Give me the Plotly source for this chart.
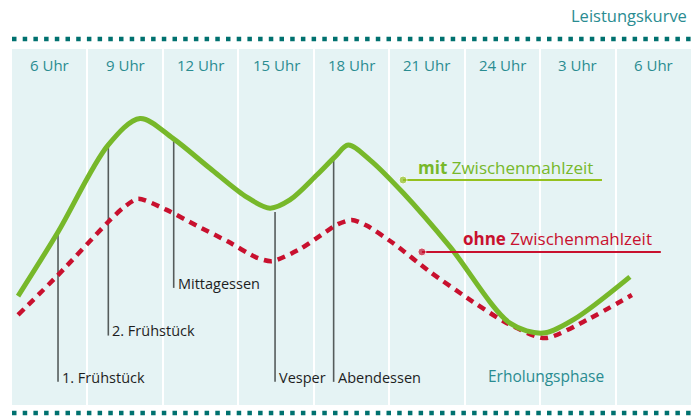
import plotly.graph_objects as go

# ---- data ----
hour_labels = ["6 Uhr", "9 Uhr", "12 Uhr", "15 Uhr", "18 Uhr", "21 Uhr", "24 Uhr", "3 Uhr", "6 Uhr"]
hour_centers = [6, 9, 12, 15, 18, 21, 24, 27, 30]

mit_x = [4.74, 6.33, 8.32, 9.59, 10.90, 12.37, 13.77, 14.76, 15.55, 16.62, 17.34, 17.87,
         18.74, 20.05, 21.92, 24.30, 25.61, 26.81, 29.07]
mit_y = [30.6, 48.6, 73.0, 80.5, 74.9, 66.5, 58.7, 55.3, 57.6, 64.6, 69.7, 73.0,
         68.8, 59.6, 44.4, 23.0, 20.2, 23.9, 36.0]

ohne_x = [4.74, 6.33, 8.32, 8.91, 9.51, 10.65, 11.84, 13.09, 14.23, 14.83, 15.95, 16.99, 17.46, 18.01,
          18.60, 19.65, 21.12, 22.83, 24.18, 25.70, 27.36, 29.15]
ohne_y = [25.3, 36.5, 51.4, 55.3, 57.9, 54.8, 50.4, 45.9, 41.4, 40.4, 43.8, 48.7, 50.8, 52.0,
          50.4, 45.5, 37.4, 29.0, 23.0, 18.8, 23.9, 30.9]

meal_names = ["1. Frühstück", "2. Frühstück", "Mittagessen", "Vesper", "Abendessen"]
meal_hours = [6.33, 8.33, 10.93, 14.96, 17.29]
meal_top = [48.3, 73.0, 74.7, 54.2, 69.4]
meal_bottom = [6.5, 19.5, 32.9, 6.5, 6.5]

GREEN = "#77b82a"
GREEN_L = "#95c11f"
RED = "#c8102e"
TEAL = "#2a8c91"
DOT = "#00716f"
FONT = "Open Sans"

fig = go.Figure()

# meal leader lines
for h, t, b in zip(meal_hours, meal_top, meal_bottom):
    fig.add_trace(go.Scatter(x=[h, h], y=[b, t], mode="lines",
                             line=dict(color="#555b5b", width=1.6),
                             hoverinfo="skip", showlegend=False))

fig.add_trace(go.Scatter(x=ohne_x, y=ohne_y, mode="lines", name="ohne Zwischenmahlzeit",
                         line=dict(color=RED, width=4.5, dash="8px,6px", shape="spline", smoothing=0.7),
                         showlegend=False))
fig.add_trace(go.Scatter(x=mit_x, y=mit_y, mode="lines", name="mit Zwischenmahlzeit",
                         line=dict(color=GREEN, width=5, shape="spline", smoothing=0.9),
                         showlegend=False))

# inline legend markers
fig.add_trace(go.Scatter(x=[20.05, 27.96], y=[63.2, 63.2], mode="lines+markers",
                         line=dict(color=GREEN_L, width=2), marker=dict(size=[8, 0], color=GREEN_L),
                         hoverinfo="skip", showlegend=False))
fig.add_trace(go.Scatter(x=[20.8, 30.3], y=[43.0, 43.0], mode="lines+markers",
                         line=dict(color=RED, width=2), marker=dict(size=[8, 0], color=RED),
                         hoverinfo="skip", showlegend=False))

annotations = []
for lab, c in zip(hour_labels, hour_centers):
    annotations.append(dict(x=c, y=95.5, xref="x", yref="y", text=lab, showarrow=False,
                            xanchor="center", yanchor="middle",
                            font=dict(family=FONT, size=15, color=TEAL)))
for name, h, b in zip(meal_names, meal_hours, meal_bottom):
    annotations.append(dict(x=h, y=b + 1.3, xref="x", yref="y", text=name, showarrow=False,
                            xanchor="left", yanchor="middle", xshift=2,
                            font=dict(family=FONT, size=14.5, color="#1e1e1e")))
annotations += [
    dict(x=20.56, y=66.8, xref="x", yref="y", text="<b>mit</b> Zwischenmahlzeit", showarrow=False,
         xanchor="left", yanchor="middle", font=dict(family=FONT, size=17, color=GREEN)),
    dict(x=22.36, y=46.8, xref="x", yref="y", text="<b>ohne</b> Zwischenmahlzeit", showarrow=False,
         xanchor="left", yanchor="middle", font=dict(family=FONT, size=17, color=RED)),
    dict(x=25.75, y=8.1, xref="x", yref="y", text="Erholungsphase", showarrow=False,
         xanchor="center", yanchor="middle", font=dict(family=FONT, size=15.5, color=TEAL)),
    dict(x=(689 - 12) / 679, y=(405 - 15) / 356, xref="paper", yref="paper", text="Leistungskurve",
         showarrow=False, xanchor="right", yanchor="middle",
         font=dict(family=FONT, size=16.5, color=TEAL)),
]

shapes = [
    dict(type="line", xref="paper", yref="paper", x0=0, x1=1.0015,
         y0=(405 - 39) / 356, y1=(405 - 39) / 356,
         line=dict(color=DOT, width=4.5, dash="4.5px,6.2px")),
    dict(type="line", xref="paper", yref="paper", x0=0, x1=1.0015,
         y0=(405 - 413) / 356, y1=(405 - 413) / 356,
         line=dict(color=DOT, width=4.5, dash="4.5px,6.2px")),
]

fig.update_layout(
    width=695, height=417,
    margin=dict(l=12, r=4, t=49, b=12),
    paper_bgcolor="white", plot_bgcolor="#e5f3f4",
    annotations=annotations, shapes=shapes,
    showlegend=False,
    xaxis=dict(range=[4.5, 31.5], showticklabels=False, ticks="", showgrid=False, zeroline=False,
               showline=False,
               minor=dict(tick0=7.5, dtick=3, showgrid=True, gridcolor="white", gridwidth=2, ticks="")),
    yaxis=dict(range=[0, 100], showticklabels=False, ticks="", showgrid=False, zeroline=False,
               showline=False),
    font=dict(family=FONT),
)

fig.write_html("out.html", config={"displayModeBar": False},
               post_script="document.body.style.margin='0';document.body.style.overflow='hidden';")
